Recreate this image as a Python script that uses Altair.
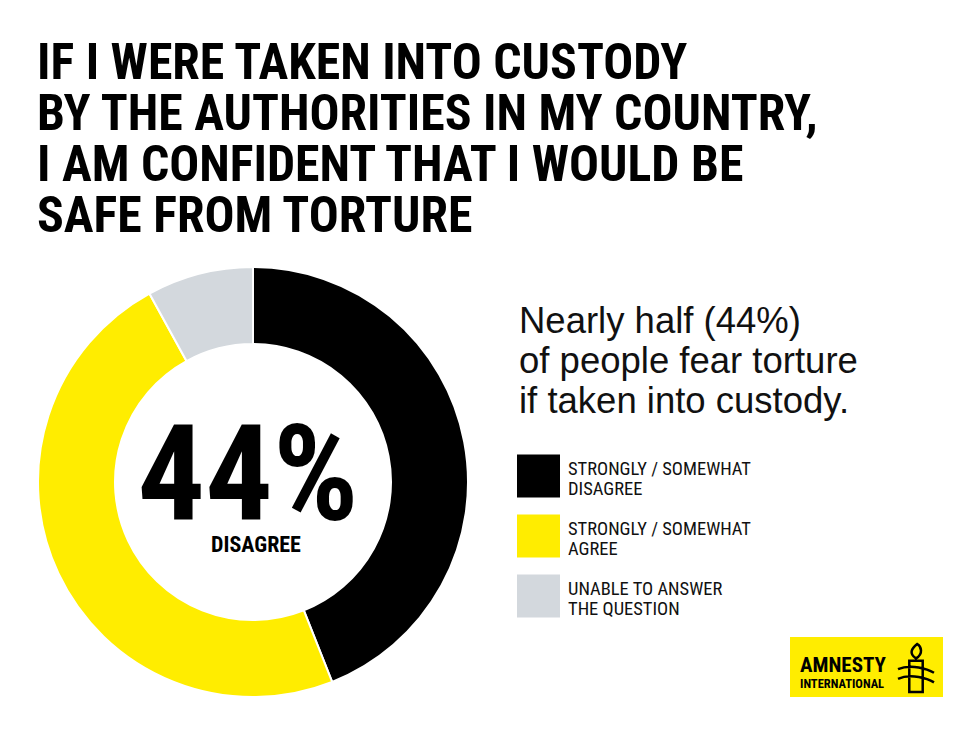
import altair as alt
import pandas as pd

# ---- data ----
categories = ["STRONGLY / SOMEWHAT DISAGREE", "STRONGLY / SOMEWHAT AGREE", "UNABLE TO ANSWER THE QUESTION"]
legend_lines = [["STRONGLY / SOMEWHAT", "DISAGREE"], ["STRONGLY / SOMEWHAT", "AGREE"], ["UNABLE TO ANSWER", "THE QUESTION"]]
values = [44, 48, 8]
colors = ["#000000", "#FFED00", "#D3D8DD"]

title_lines = ["IF I WERE TAKEN INTO CUSTODY", "BY THE AUTHORITIES IN MY COUNTRY,",
               "I AM CONFIDENT THAT I WOULD BE", "SAFE FROM TORTURE"]
sub_lines = ["Nearly half (44%)", "of people fear torture", "if taken into custody."]
big_number = "44%"
big_label = "DISAGREE"

COND = "Liberation Sans Narrow, Roboto Condensed, DejaVu Sans Condensed, sans-serif"

df = pd.DataFrame({
    "cat": categories,
    "value": values,
    "order": list(range(len(categories))),
    "idx": list(range(len(categories))),
    "label": legend_lines,
})

color = alt.Color("cat:N", scale=alt.Scale(domain=categories, range=colors), legend=None)

base = alt.Chart(df)

donut = base.mark_arc(outerRadius=215, innerRadius=138, stroke="white", strokeWidth=2).encode(
    theta=alt.Theta("value:Q", stack=True),
    order=alt.Order("order:Q"),
    color=color,
    x=alt.value(245),
    y=alt.value(474),
)

yleg = alt.Y("idx:Q", scale=alt.Scale(domain=[0, 2], range=[468, 588]), axis=None)

leg_sq = base.mark_square(size=1849, opacity=1).encode(
    x=alt.value(530.5), y=yleg, color=color,
)
leg_tx = base.mark_text(align="left", baseline="alphabetic", dy=-1, font=COND, fontSize=18.5,
                        lineHeight=20, color="#111").encode(
    x=alt.value(560), y=yleg, text="label",
)

one = alt.Chart(pd.DataFrame({"a": [0]}))

title = one.mark_text(text=title_lines, align="left", baseline="alphabetic", font=COND,
                      fontWeight="bold", fontSize=49.8, lineHeight=51, color="#000").encode(
    x=alt.value(29), y=alt.value(71))

subtitle = one.mark_text(text=sub_lines, align="left", baseline="alphabetic", font="Liberation Sans",
                         fontSize=36.5, lineHeight=40, color="#111").encode(
    x=alt.value(511), y=alt.value(325))

big = one.mark_text(text=big_number, align="center", baseline="alphabetic", font=COND,
                    fontWeight="bold", fontSize=134, color="#000").encode(
    x=alt.value(240), y=alt.value(512))

big_lab = one.mark_text(text=big_label, align="center", baseline="alphabetic", font=COND,
                        fontWeight="bold", fontSize=22, color="#000").encode(
    x=alt.value(248), y=alt.value(544))

logo_bg = one.mark_rect(color="#FFED00").encode(
    x=alt.value(782), x2=alt.value(935), y=alt.value(629), y2=alt.value(689))

logo1 = one.mark_text(text="AMNESTY", align="left", baseline="alphabetic", font=COND,
                      fontWeight="bold", fontSize=21, color="#000").encode(
    x=alt.value(792), y=alt.value(664))
logo2 = one.mark_text(text="INTERNATIONAL", align="left", baseline="alphabetic", font=COND,
                      fontWeight="bold", fontSize=12.5, color="#000").encode(
    x=alt.value(792), y=alt.value(680))

candle_path = ("M-0.28,-0.3 L0.28,-0.3 L0.28,1 L-0.28,1 Z "
               "M0,-0.4 C0.32,-0.6 0.22,-0.9 0.05,-1 C-0.2,-0.8 -0.3,-0.6 0,-0.4 Z "
               "M-0.75,0.05 C-0.2,-0.2 0.5,0.05 0.75,0.2 "
               "M-0.75,0.45 C-0.2,0.2 0.5,0.45 0.75,0.6")
candle = one.mark_point(shape=candle_path, size=2300, filled=False, stroke="#000",
                        strokeWidth=2.5, opacity=1).encode(
    x=alt.value(908), y=alt.value(660))

chart = alt.layer(
    donut, big, big_lab, title, subtitle, leg_sq, leg_tx, logo_bg, logo1, logo2, candle
).properties(
    width=964, height=719,
    autosize=alt.AutoSizeParams(type="none"),
    padding=0,
    background="white",
).configure_view(stroke=None)

chart.save("out.html", embed_options={"renderer": "svg", "actions": False})
